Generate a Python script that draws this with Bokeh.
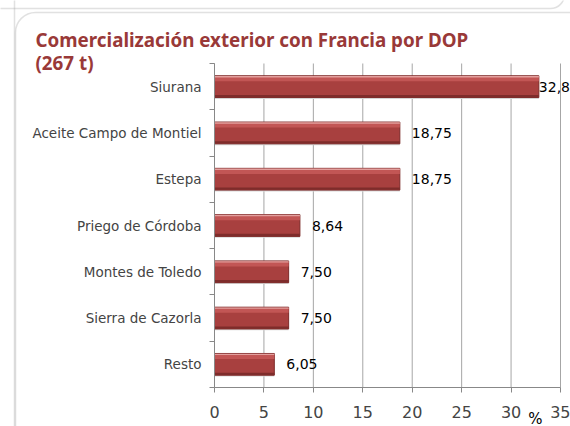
from bokeh.plotting import figure
from bokeh.models import ColumnDataSource, FixedTicker, LabelSet, Label, Range1d, BoxAnnotation
from bokeh.core.properties import value
from bokeh.transform import dodge
from bokeh.embed import file_html
from bokeh.resources import INLINE

categories = ["Siurana", "Aceite Campo de Montiel", "Estepa", "Priego de Córdoba",
              "Montes de Toledo", "Sierra de Cazorla", "Resto"]
values = [32.81, 18.75, 18.75, 8.64, 7.50, 7.50, 6.05]
value_labels = ["32,81", "18,75", "18,75", "8,64", "7,50", "7,50", "6,05"]
x_ticks = [0, 5, 10, 15, 20, 25, 30, 35]
title_line1 = "Comercialización exterior con Francia por DOP"
title_line2 = "(267 t)"
unit_label = "%"

n = len(categories)
XMAX = 35
ypos = [n - 1 - i + 0.5 for i in range(n)]
offsets = [0 if v > 30 else 12 for v in values]

src = ColumnDataSource(dict(cat=categories, val=values, lab=value_labels, y=ypos, off=offsets))

# layout in pixels: the plotting area spans the whole canvas, the chart
# region (0..35, 0..n) sits at these pixel positions
W, H = 570, 426
PX_L, PX_R, PX_T, PX_B = 214, 560, 63, 387
sx = (PX_R - PX_L) / XMAX
sy = (PX_B - PX_T) / n
x_range = Range1d(-PX_L / sx, (W - PX_L) / sx)
y_range = Range1d(-(H - PX_B) / sy, n + PX_T / sy)

def dx(px):
    return (px - PX_L) / sx
def dy(py):
    return n - (py - PX_T) / sy

FONT = "DejaVu Sans"
p = figure(width=W, height=H, output_backend="svg", toolbar_location=None,
           x_range=x_range, y_range=y_range,
           min_border=0, min_border_left=0, min_border_right=0,
           min_border_top=0, min_border_bottom=0)
p.outline_line_color = None
p.background_fill_color = "white"
p.xgrid.visible = False
p.ygrid.visible = False

# slide box outlines (decoration)
deco = dict(fill_color=None, line_color="#9A9A9A", line_width=1.5, level="underlay")
p.add_layout(BoxAnnotation(left=dx(15), right=dx(620), top=dy(12), bottom=dy(480),
                           border_radius=20, **deco))
p.add_layout(BoxAnnotation(left=dx(-50), right=dx(564), top=dy(-50), bottom=dy(8),
                           border_radius=14, **deco))
p.add_layout(BoxAnnotation(left=dx(-50), right=dx(14), top=dy(-14), bottom=dy(480),
                           border_radius=14, **deco))

# vertical grid lines
p.segment(x0=x_ticks, y0=0, x1=x_ticks, y1=n, line_color="#A6A6A6", line_width=1)

# bars (layered to imitate the bevelled look)
BH = 0.47
p.hbar(y=dodge("y", -0.03, range=p.y_range), right="val", left=0, height=BH, source=src,
       fill_color="#D8D8D8", line_color=None)
p.hbar(y="y", right="val", left=0, height=BH, source=src,
       fill_color="#A8403F", line_color="#7E2C2B", line_width=1)
p.hbar(y=dodge("y", 0.165, range=p.y_range), right="val", left=0, height=0.1, source=src,
       fill_color="#C25655", line_color=None)
p.hbar(y=dodge("y", 0.215, range=p.y_range), right="val", left=0, height=0.03, source=src,
       fill_color="#E3A09E", line_color=None)
p.hbar(y=dodge("y", -0.205, range=p.y_range), right="val", left=0, height=0.05, source=src,
       fill_color="#7E2C2B", line_color=None)

labels = LabelSet(x="val", y="y", text="lab", source=src, x_offset="off",
                  text_baseline="middle", text_font_size=value("14px"), text_font=value(FONT),
                  text_color="black")
p.add_layout(labels)

# x axis, drawn at y = 0
p.xaxis.fixed_location = 0
p.xaxis.bounds = (0, XMAX)
p.xaxis.ticker = FixedTicker(ticks=x_ticks)
p.xaxis.major_label_text_font = FONT
p.xaxis.major_label_text_font_size = "16px"
p.xaxis.major_label_standoff = 13
p.xaxis.major_tick_in = 0
p.xaxis.major_tick_out = 5
p.xaxis.minor_tick_line_color = None
p.xaxis.axis_line_color = "#888888"
p.xaxis.major_tick_line_color = "#888888"

# y axis, drawn at x = 0
p.yaxis.fixed_location = 0
p.yaxis.bounds = (0, n)
p.yaxis.ticker = FixedTicker(ticks=ypos, minor_ticks=list(range(n + 1)))
p.yaxis.major_label_overrides = {y: c for y, c in zip(ypos, categories)}
p.yaxis.major_label_text_font = FONT
p.yaxis.major_label_text_font_size = "13.5px"
p.yaxis.major_tick_line_color = None
p.yaxis.minor_tick_in = 0
p.yaxis.minor_tick_out = 5
p.yaxis.minor_tick_line_color = "#888888"
p.yaxis.axis_line_color = "#888888"
p.yaxis.major_label_standoff = 7

# titles and unit
tcol = "#993938"
p.add_layout(Label(x=dx(35), y=dy(39), text=title_line1, text_font="Noto Sans",
                   text_font_style="bold", text_font_size="18.8px", text_color=tcol,
                   text_baseline="middle", text_align="left"))
p.add_layout(Label(x=dx(35), y=dy(62), text=title_line2, text_font="Noto Sans",
                   text_font_style="bold", text_font_size="18.8px", text_color=tcol,
                   text_baseline="middle", text_align="left"))
p.add_layout(Label(x=dx(535), y=dy(418), text=unit_label,
                   text_font=FONT, text_font_size="15px", text_color="black",
                   text_baseline="middle", text_align="center"))

open("out.html", "w").write(file_html(p, INLINE))
